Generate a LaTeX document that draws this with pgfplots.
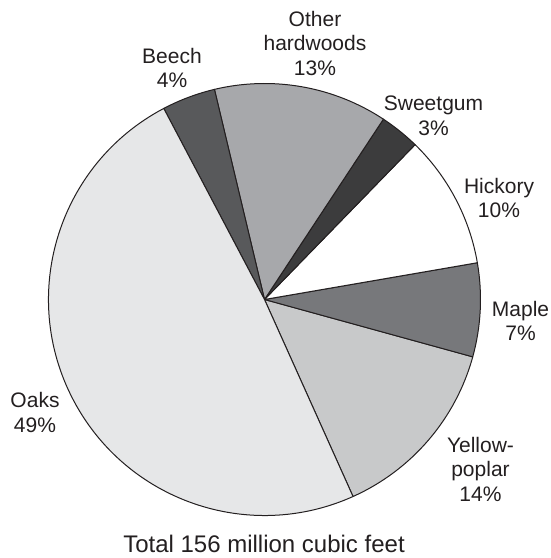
\documentclass[border=0pt]{standalone}
\usepackage{pgfplots}
\pgfplotsset{compat=1.18}
\usepackage{fontspec}
\setmainfont{Liberation Sans}

\definecolor{ink}{HTML}{231F20}
\definecolor{oaks}{HTML}{E6E7E8}
\definecolor{ypop}{HTML}{C8C9CA}
\definecolor{maple}{HTML}{77787B}
\definecolor{hick}{HTML}{FFFFFF}
\definecolor{sgum}{HTML}{3C3C3D}
\definecolor{other}{HTML}{A7A8AB}
\definecolor{beech}{HTML}{58595B}

% slice: #1 = start (percent, counted from the Yellow-poplar/Oaks edge), #2 = share (percent), #3 = fill
\newcommand\slice[3]{%
  \filldraw[fill=#3, draw=ink, line width=1bp, line join=round]
    (axis cs:264.5,258.5) -- ++({-65.8+3.6*(#1)}:216bp)
    arc[start angle={-65.8+3.6*(#1)}, delta angle={3.6*(#2)}, radius=216bp] -- cycle;}
% one line of a label, centred, on its baseline
\newcommand\lab[3]{%
  \node[anchor=base, inner sep=0pt, text=ink, font=\fontsize{21bp}{24.8bp}\selectfont]
    at (axis cs:#1,#2) {#3};}

\begin{document}
\begin{tikzpicture}
    \begin{axis}[
        x         = 1bp,
        y         = 1bp,
        xmin      = 0,
        xmax      = 551,
        ymin      = 0,
        ymax      = 558,
        hide axis,
        clip      = false]

        % shares of the total, in percent
        \slice{0}{14}{ypop}    % Yellow-poplar
        \slice{14}{7}{maple}   % Maple
        \slice{21}{10}{hick}   % Hickory
        \slice{31}{3}{sgum}    % Sweetgum
        \slice{34}{13}{other}  % Other hardwoods
        \slice{47}{4}{beech}   % Beech
        \slice{51}{49}{oaks}   % Oaks

        \lab{315}{531.5}{Other}
        \lab{315}{507}{hardwoods}
        \lab{315}{482.5}{13\%}
        \lab{172}{494.7}{Beech}
        \lab{172}{470}{4\%}
        \lab{433.5}{447.3}{Sweetgum}
        \lab{433.5}{422}{3\%}
        \lab{499}{364.7}{Hickory}
        \lab{499}{340}{10\%}
        \lab{520.5}{241.3}{Maple}
        \lab{520.5}{217}{7\%}
        \lab{480.5}{105.7}{Yellow-}
        \lab{480.5}{81.3}{poplar}
        \lab{480.5}{56.3}{14\%}
        \lab{35}{150.7}{Oaks}
        \lab{35}{125.7}{49\%}

        \node[anchor=base, inner sep=0pt, text=ink, font=\fontsize{24bp}{28bp}\selectfont]
            at (axis cs:264,5) {Total 156 million cubic feet};

        \coordinate (bl) at (axis cs:0,0);
        \coordinate (tr) at (axis cs:551,558);
    \end{axis}
    \pgfresetboundingbox
    \path (bl) rectangle (tr);
\end{tikzpicture}
\end{document}
